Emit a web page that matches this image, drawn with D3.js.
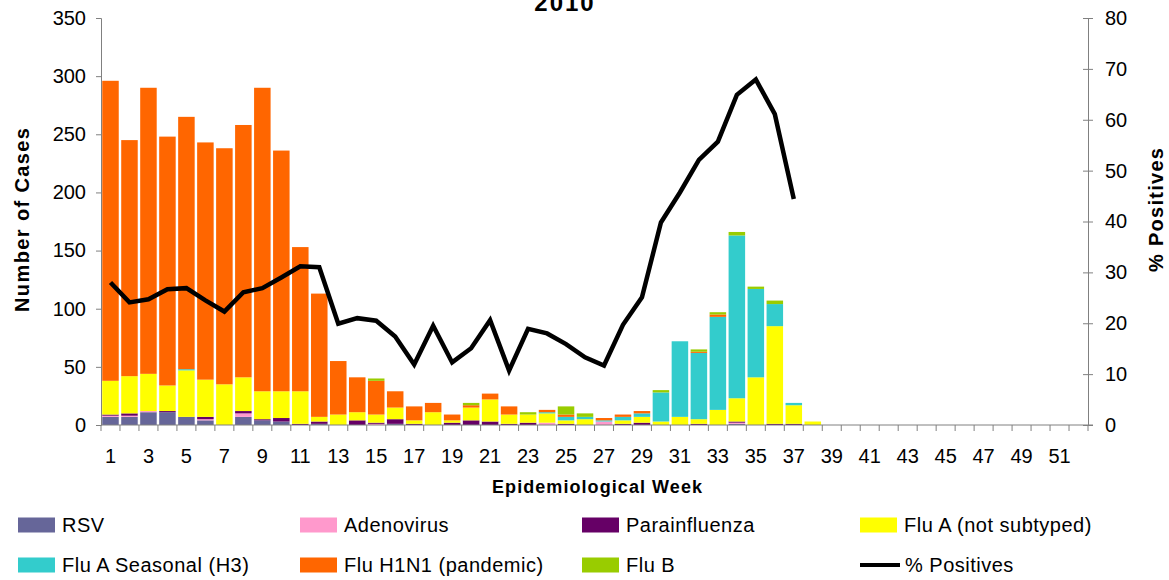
<!DOCTYPE html>
<html>
<head>
<meta charset="utf-8">
<script src="https://cdn.jsdelivr.net/npm/d3@7"></script>
<style>
  body { margin: 0; background: #fff; }
  svg { display: block; font-family: Arial, "Liberation Sans", sans-serif; }
  .axis path, .axis line { stroke: #808080; }
  .axis text { font-size: 20px; fill: #000; }
</style>
</head>
<body>
<svg id="chart" width="1169" height="580"></svg>
<script>
// weekly counts, weeks 1..38 (rest of the year is empty)
var weeks = d3.range(1, 53);
var rsv   = [7,7,11,11,7,4,0,7,4,3,0,1,0,0,0,1,0,0,0,0,0,0,0,0,0,0,0,0,0,0,0,0,0,1,0,0,0,0];
var adeno = [1,1,1,0,0,1,0,3,0,0,0,0,0,0,1,0,0,0,0,0,0,0,0,2,0,0,3,0,0,0,0,0,0,1,0,0,0,0];
var para  = [1,2,0,1,0,2,0,2,1,3,1,2,0,4,1,4,1,0,2,4,3,1,2,0,1,0,0,1,2,0,0,1,0,1,0,1,1,0];
var fluA  = [29,32,32,22,40,32,35,29,24,23,28,4,9,7,7,10,3,11,2,11,19,8,7,8,3,5,0,3,5,3,7,4,13,20,41,84,16,3];
var h3    = [0,0,0,0,1,0,0,0,0,0,0,0,0,0,0,0,0,0,0,0,0,0,0,1,3,2,1,3,3,25,65,57,80,140,76,19,2,0];
var h1n1  = [258,203,246,214,217,204,203,217,261,207,124,106,46,30,29,14,12,8,5,2,5,7,0,2,2,0,2,2,2,0,0,1,2,0,0,0,0,0];
var fluB  = [0,0,0,0,0,0,0,0,0,0,0,0,0,0,2,0,0,0,0,2,0,0,2,0,7,3,0,0,0,2,0,2,2,3,2,3,0,0];
var pctPositive = [28.0,24.1,24.7,26.7,26.9,24.5,22.3,26.1,26.9,29.0,31.2,31.0,19.9,21.0,20.5,17.4,11.9,19.5,12.3,15.1,20.6,10.7,18.9,18.0,15.9,13.3,11.7,19.7,25.1,39.8,45.7,52.1,55.7,64.9,67.9,61.1,44.4];

var leftTicks = [0,50,100,150,200,250,300,350];
var rightTicks = [0,10,20,30,40,50,60,70,80];

var series = [
  {key: "rsv",   name: "RSV",                    color: "#666699", values: rsv},
  {key: "adeno", name: "Adenovirus",             color: "#FF99CC", values: adeno},
  {key: "para",  name: "Parainfluenza",          color: "#660066", values: para},
  {key: "fluA",  name: "Flu A (not subtyped)",   color: "#FFFF00", values: fluA},
  {key: "h3",    name: "Flu A Seasonal (H3)",    color: "#33CCCC", values: h3},
  {key: "h1n1",  name: "Flu H1N1 (pandemic)",    color: "#FF6600", values: h1n1},
  {key: "fluB",  name: "Flu B",                  color: "#99CC00", values: fluB}
];

(function() {
  var svg = d3.select("#chart");
  var plotLeft = 101, plotRight = 1088, plotTop = 18, plotBottom = 425;

  // build a table the stack can use
  var table = weeks.map(function(w, i) {
    var row = {week: w};
    series.forEach(function(s) { row[s.key] = s.values[i] || 0; });
    return row;
  });

  var x = d3.scaleBand().domain(weeks).range([plotLeft, plotRight]).paddingInner(0.13).paddingOuter(0.065);
  var yL = d3.scaleLinear().domain([0, 350]).range([plotBottom, plotTop]);
  var yR = d3.scaleLinear().domain([0, 80]).range([plotBottom, plotTop]);

  var stacked = d3.stack().keys(series.map(function(s) { return s.key; }))(table);

  svg.append("g").selectAll("g")
    .data(stacked)
    .join("g")
      .attr("fill", function(d, i) { return series[i].color; })
    .selectAll("rect")
    .data(function(d) { return d; })
    .join("rect")
      .attr("x", function(d) { return x(d.data.week); })
      .attr("width", x.bandwidth())
      .attr("y", function(d) { return yL(d[1]); })
      .attr("height", function(d) { return yL(d[0]) - yL(d[1]); });

  // axes
  var gx = svg.append("g").attr("class", "axis")
    .attr("transform", "translate(0," + plotBottom + ")")
    .call(d3.axisBottom(x).tickValues(weeks.filter(function(w) { return w % 2 == 1; }))
      .tickSize(0).tickPadding(24));
  gx.select(".domain").remove();

  // category boundary ticks
  var step = x.step();
  svg.append("g").selectAll("line")
    .data(d3.range(0, weeks.length + 1))
    .join("line")
      .attr("x1", function(i) { return plotLeft + i * step; })
      .attr("x2", function(i) { return plotLeft + i * step; })
      .attr("y1", plotBottom)
      .attr("y2", plotBottom + 6)
      .attr("stroke", "#808080");

  svg.append("line")
    .attr("x1", plotLeft).attr("x2", plotRight + 5)
    .attr("y1", plotBottom).attr("y2", plotBottom)
    .attr("stroke", "#808080");

  svg.append("g").attr("class", "axis")
    .attr("transform", "translate(" + plotLeft + ",0)")
    .call(d3.axisLeft(yL).tickValues(leftTicks).tickSizeOuter(0).tickSize(5).tickPadding(10));

  var gr = svg.append("g").attr("class", "axis")
    .attr("transform", "translate(" + plotRight + ",0)")
    .call(d3.axisRight(yR).tickValues(rightTicks).tickSizeOuter(0).tickSize(5).tickPadding(12));
  gr.selectAll(".tick").append("line").attr("x2", -5).attr("stroke", "#808080");

  // % positives line
  var line = d3.line()
    .x(function(d, i) { return x(weeks[i]) + x.bandwidth() / 2; })
    .y(function(d) { return yR(d); });

  svg.append("path")
    .datum(pctPositive)
    .attr("d", line)
    .attr("fill", "none")
    .attr("stroke", "#000")
    .attr("stroke-width", 4.5)
    .attr("stroke-linejoin", "miter");

  // titles
  svg.append("text")
    .attr("x", 565).attr("y", 11)
    .attr("text-anchor", "middle")
    .style("font-size", "24px").style("font-weight", "bold")
    .style("letter-spacing", "2px")
    .text("2010");

  svg.append("text")
    .attr("transform", "translate(22,220) rotate(-90)")
    .attr("text-anchor", "middle").attr("dominant-baseline", "central")
    .attr("textLength", 184).attr("lengthAdjust", "spacing")
    .style("font-size", "20px").style("font-weight", "bold")
    .text("Number of Cases");

  svg.append("text")
    .attr("transform", "translate(1156,210) rotate(-90)")
    .attr("text-anchor", "middle").attr("dominant-baseline", "central")
    .attr("textLength", 124).attr("lengthAdjust", "spacing")
    .style("font-size", "20px").style("font-weight", "bold")
    .text("% Positives");

  svg.append("text")
    .attr("x", 597).attr("y", 487)
    .attr("text-anchor", "middle").attr("dominant-baseline", "central")
    .attr("textLength", 210).attr("lengthAdjust", "spacing")
    .style("font-size", "18px").style("font-weight", "bold")
    .text("Epidemiological Week");

  // legend
  var legendItems = series.map(function(s) { return {name: s.name, color: s.color, type: "rect"}; });
  legendItems.push({name: "% Positives", color: "#000", type: "line"});
  var colX = [18, 300, 582, 860];
  var rowY = [525, 565];

  var lg = svg.append("g").selectAll("g")
    .data(legendItems)
    .join("g")
      .attr("transform", function(d, i) {
        return "translate(" + colX[i % 4] + "," + rowY[Math.floor(i / 4)] + ")";
      });

  lg.filter(function(d) { return d.type == "rect"; })
    .append("rect")
      .attr("x", 0).attr("y", -7.5)
      .attr("width", 37).attr("height", 15)
      .attr("fill", function(d) { return d.color; });

  lg.filter(function(d) { return d.type == "line"; })
    .append("line")
      .attr("x1", 0).attr("x2", 40)
      .attr("y1", 0).attr("y2", 0)
      .attr("stroke", "#000").attr("stroke-width", 4);

  lg.append("text")
    .attr("x", function(d) { return d.type == "line" ? 45 : 44; })
    .attr("y", 0)
    .attr("dominant-baseline", "central")
    .style("font-size", "20px")
    .style("letter-spacing", "0.5px")
    .text(function(d) { return d.name; });
})();
</script>
</body>
</html>
